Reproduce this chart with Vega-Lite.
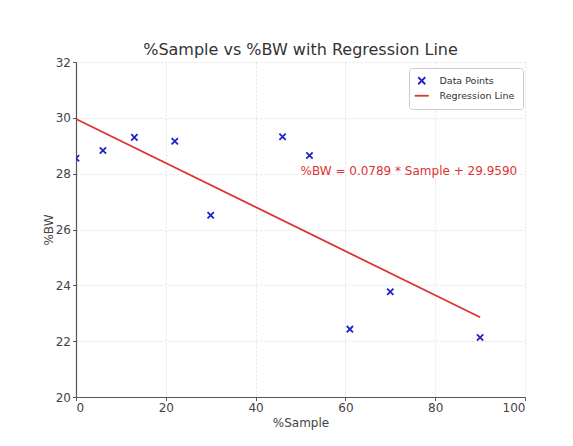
{
  "$schema": "https://vega.github.io/schema/vega-lite/v6.json",
  "width": 449,
  "height": 335,
  "autosize": {"type": "none"},
  "padding": {"left": 76, "top": 62, "right": 48, "bottom": 49},
  "background": "white",
  "title": {"text": "%Sample vs %BW with Regression Line", "fontSize": 16, "font": "DejaVu Sans", "fontWeight": "normal", "color": "#333333", "offset": -2},
  "config": {
    "font": "DejaVu Sans",
    "view": {"stroke": null},
    "axis": {
      "labelFontSize": 12,
      "labelColor": "#444444",
      "titleFontSize": 12,
      "titleFontWeight": "normal",
      "titleColor": "#444444",
      "tickSize": 3.5,
      "tickColor": "#555555",
      "domainColor": "#555555",
      "domainWidth": 1.2,
      "gridColor": "#dddddd",
      "gridDash": [2, 2],
      "gridWidth": 0.8,
      "labelPadding": 2
    }
  },
  "datasets": {
    "points": [
      {"sample": 0, "bw": 28.55, "series": "Data Points"},
      {"sample": 6, "bw": 28.83, "series": "Data Points"},
      {"sample": 13, "bw": 29.3, "series": "Data Points"},
      {"sample": 22, "bw": 29.16, "series": "Data Points"},
      {"sample": 30, "bw": 26.51, "series": "Data Points"},
      {"sample": 46, "bw": 29.32, "series": "Data Points"},
      {"sample": 52, "bw": 28.65, "series": "Data Points"},
      {"sample": 61, "bw": 22.43, "series": "Data Points"},
      {"sample": 70, "bw": 23.77, "series": "Data Points"},
      {"sample": 90, "bw": 22.13, "series": "Data Points"}
    ],
    "line": [
      {"sample": 0, "bw": 29.959},
      {"sample": 90, "bw": 22.858}
    ]
  },
  "layer": [
    {
      "data": {"name": "line"},
      "mark": {"type": "line", "color": "#dd3333", "strokeWidth": 1.8},
      "encoding": {
        "x": {"field": "sample", "type": "quantitative", "scale": {"domain": [0, 100], "nice": false}, "axis": {"values": [0, 20, 40, 60, 80, 100], "title": "%Sample", "titlePadding": 4}},
        "y": {"field": "bw", "type": "quantitative", "scale": {"domain": [20, 32], "nice": false, "zero": false}, "axis": {"values": [20, 22, 24, 26, 28, 30, 32], "title": "%BW", "titlePadding": 0}}
      }
    },
    {
      "data": {"name": "points"},
      "mark": {"type": "point", "filled": false, "size": 40, "strokeWidth": 1.8, "clip": true, "opacity": 1},
      "encoding": {
        "x": {"field": "sample", "type": "quantitative"},
        "y": {"field": "bw", "type": "quantitative"},
        "color": {"field": "series", "type": "nominal", "scale": {"domain": ["Data Points", "Regression Line"], "range": ["#2222cc", "#dd3333"]}, "legend": {"title": null, "orient": "none", "legendX": 333, "legendY": 6, "padding": 8, "strokeColor": "#cccccc", "fillColor": "white", "cornerRadius": 3, "labelFontSize": 9.5, "labelColor": "#333333", "symbolSize": 49, "symbolStrokeWidth": 1.8, "labelOffset": 13, "rowPadding": 2}},
        "shape": {"field": "series", "type": "nominal", "scale": {"domain": ["Data Points", "Regression Line"], "range": ["M-1,-1L1,1M-1,1L1,-1", "M-2,0L2,0"]}, "legend": {"title": null, "orient": "none", "legendX": 333, "legendY": 6, "padding": 8, "strokeColor": "#cccccc", "fillColor": "white", "cornerRadius": 3, "labelFontSize": 9.5, "labelColor": "#333333", "symbolSize": 49, "symbolStrokeWidth": 1.8, "labelOffset": 13, "rowPadding": 2}}
      }
    },
    {
      "data": {"values": [{}]},
      "mark": {"type": "text", "align": "left", "baseline": "middle", "fill": "#dd3333", "fontSize": 12, "text": "%BW = 0.0789 * Sample + 29.9590"},
      "encoding": {
        "x": {"datum": 50, "type": "quantitative"},
        "y": {"datum": 28.1, "type": "quantitative"}
      }
    }
  ]
}
